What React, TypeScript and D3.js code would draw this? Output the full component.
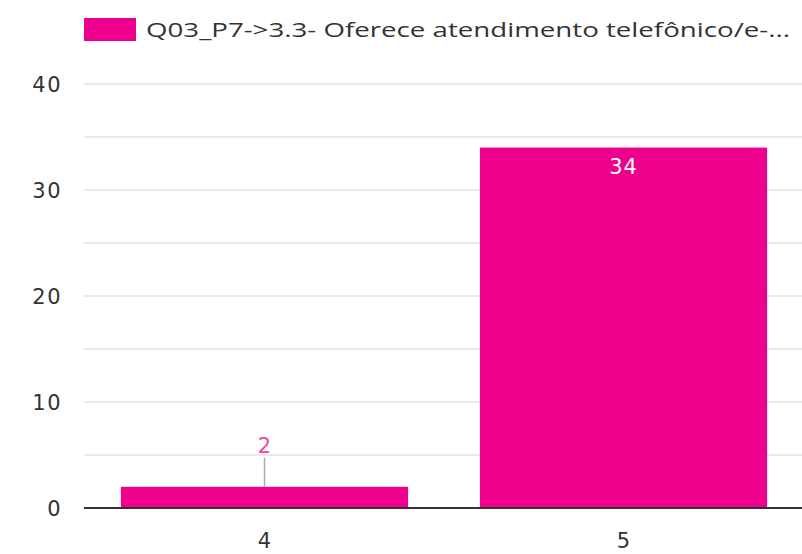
import React from "react";
import * as d3 from "d3";

const categories = ["4", "5"];
const values = [2, 34];
const yTicks = [0, 10, 20, 30, 40];
const gridTicks = [0, 5, 10, 15, 20, 25, 30, 35, 40];
const seriesName = "Q03_P7->3.3- Oferece atendimento telefônico/e-...";

const W = 802;
const H = 554;
const FONT = "'Open Sans', 'DejaVu Sans', sans-serif";
const NUMFONT = "'DejaVu Sans', 'Open Sans', sans-serif";
const PINK = "#ec008c";

export default function App() {
  const left = 84;
  const right = 802;
  const top = 84;
  const bottom = 508;
  const x = d3.scaleBand<string>().domain(categories).range([left + 1, right + 1]).paddingInner(0.2).paddingOuter(0.1);
  const y = d3.scaleLinear().domain([0, 40]).range([bottom, top]);

  return (
    <svg width={W} height={H} style={{ position: "absolute", left: 0, top: 0, background: "#fff" }} fontFamily={FONT}>
      {/* legend */}
      <rect x={84} y={18} width={52} height={23} fill={PINK} />
      <text x={146} y={37} fontSize={20} fill="#333" textLength={644} lengthAdjust="spacingAndGlyphs">{seriesName}</text>
      {/* grid */}
      {gridTicks.map((t) => (
        <line key={t} x1={left} x2={right} y1={y(t)} y2={y(t)} stroke="#e3e3e3" strokeWidth={1.5} />
      ))}
      {/* y labels */}
      {yTicks.map((t) => (
        <text key={t} x={62} y={y(t)} dy="0.36em" textAnchor="end" fontSize={21} fill="#333" fontFamily={NUMFONT} letterSpacing={1.5}>{t}</text>
      ))}
      {/* bars */}
      {categories.map((c, i) => {
        const v = values[i];
        const bx = x(c)!;
        const bw = x.bandwidth();
        const by = y(v);
        const bh = bottom - by;
        const cx = bx + bw / 2;
        const inside = bh > 40;
        return (
          <g key={c}>
            <rect x={bx} y={by} width={bw} height={bh} fill={PINK} />
            {inside ? (
              <text x={cx} y={by + 26} textAnchor="middle" fontSize={21} fill="#fff" fontFamily={NUMFONT} letterSpacing={1}>{v}</text>
            ) : (
              <g>
                <line x1={cx} x2={cx} y1={by} y2={by - 29} stroke="#aaa" strokeWidth={1.5} />
                <text x={cx} y={by - 34} textAnchor="middle" fontSize={21} fill="#f0449f" fontFamily={NUMFONT}>{v}</text>
              </g>
            )}
          </g>
        );
      })}
      {/* x axis */}
      <line x1={left} x2={right} y1={bottom} y2={bottom} stroke="#333" strokeWidth={2} />
      {categories.map((c) => (
        <text key={c} x={x(c)! + x.bandwidth() / 2} y={548} textAnchor="middle" fontSize={21} fill="#333" fontFamily={NUMFONT}>{c}</text>
      ))}
    </svg>
  );
}
